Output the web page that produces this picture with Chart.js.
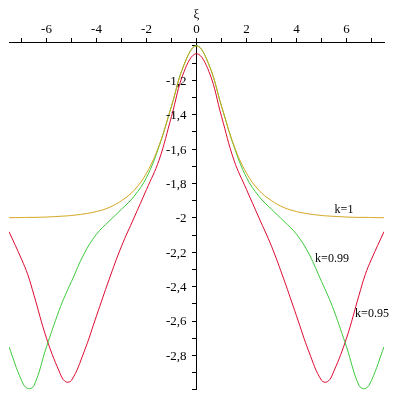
<!DOCTYPE html>
<html>
<head>
<meta charset="utf-8">
<script src="https://cdn.jsdelivr.net/npm/chart.js@4"></script>
<style>
  html, body { margin: 0; padding: 0; background: #fff; }
  #wrap { width: 400px; height: 400px; }
</style>
</head>
<body>
<div id="wrap"><canvas id="xiChart"></canvas></div>
<script>
// x positions (shared by all three curves)
const xs = [-7.5, -7, -6.75, -6.5, -6, -5.5, -5.25, -5, -4.5, -4, -3.5, -3, -2.5, -2, -1.5, -1, -0.5,
            0, 0.5, 1, 1.5, 2, 2.5, 3, 3.5, 4, 4.5, 5, 5.25, 5.5, 6, 6.5, 6.75, 7, 7.5];

// curve values
const xiK1 = [-1.999, -1.998, -1.997, -1.997, -1.995, -1.991, -1.989, -1.986, -1.977, -1.963, -1.94, -1.90, -1.84, -1.74, -1.58, -1.35, -1.11,
              -1.0, -1.11, -1.35, -1.58, -1.74, -1.84, -1.90, -1.94, -1.963, -1.977, -1.986, -1.989, -1.991, -1.995, -1.997, -1.997, -1.998, -1.999];
const xiK099 = [-2.75, -2.945, -2.993, -2.975, -2.75, -2.54, -2.45, -2.37, -2.21, -2.095, -2.02, -1.95, -1.875, -1.765, -1.585, -1.35, -1.11,
                -0.998, -1.11, -1.35, -1.585, -1.765, -1.875, -1.95, -2.02, -2.095, -2.21, -2.37, -2.45, -2.54, -2.75, -2.975, -2.993, -2.945, -2.75];
const xiK095 = [-2.08, -2.24, -2.33, -2.45, -2.70, -2.89, -2.952, -2.945, -2.78, -2.57, -2.36, -2.165, -2.0, -1.835, -1.665, -1.41, -1.15,
                -1.045, -1.15, -1.41, -1.665, -1.835, -2.0, -2.165, -2.36, -2.57, -2.78, -2.945, -2.952, -2.89, -2.70, -2.45, -2.33, -2.24, -2.08];

// curve labels
const curveNames = ['k=1', 'k=0.99', 'k=0.95'];
const nameX = [5.9, 5.42, 7.02];
const nameY = [-1.954, -2.241, -2.557];

// tick marks and which of them carry a label
const xTicks = [-7, -6, -5, -4, -3, -2, -1, 0, 1, 2, 3, 4, 5, 6, 7];
const xLabels = [-6, -4, -2, 0, 2, 4, 6];
const yTicks = [-3, -2.9, -2.8, -2.7, -2.6, -2.5, -2.4, -2.3, -2.2, -2.1, -2, -1.9, -1.8, -1.7, -1.6, -1.5, -1.4, -1.3, -1.2, -1.1, -1];
const yLabels = [-1.2, -1.4, -1.6, -1.8, -2, -2.2, -2.4, -2.6, -2.8];

const serif = "'Liberation Serif', 'DejaVu Serif', serif";

function toPoints(ys) {
    return xs.map((x, i) => ({ x: x, y: ys[i] }));
}

function fmt(v) {
    return String(v).replace('.', ',');
}

// draws the axis title, the y tick labels and the curve names
const textPlugin = {
    id: 'textPlugin',
    afterDraw(chart) {
        const ctx = chart.ctx;
        const sx = chart.scales.x;
        const sy = chart.scales.y;
        const x0 = sx.getPixelForValue(0);
        ctx.save();
        ctx.fillStyle = '#000';
        ctx.font = '13px ' + serif;
        ctx.textAlign = 'center';
        ctx.textBaseline = 'middle';
        ctx.fillText('ξ', x0, 15);

        ctx.textAlign = 'right';
        yLabels.forEach(v => {
            ctx.fillText(fmt(v), x0 - 10, sy.getPixelForValue(v) + 1);
        });

        ctx.textAlign = 'center';
        ctx.font = '12px ' + serif;
        curveNames.forEach((name, i) => {
            ctx.fillText(name, sx.getPixelForValue(nameX[i]), sy.getPixelForValue(nameY[i]));
        });
        ctx.restore();
    }
};

const ctx = document.getElementById('xiChart').getContext('2d');
const xiChart = new Chart(ctx, {
    type: 'line',
    data: {
        datasets: [
            {
                label: 'k=1',
                data: toPoints(xiK1),
                borderColor: '#d4a520',
                borderWidth: 1,
                pointRadius: 0,
                tension: 0.4,
                fill: false
            },
            {
                label: 'k=0.99',
                data: toPoints(xiK099),
                borderColor: '#3cc83c',
                borderWidth: 1,
                pointRadius: 0,
                tension: 0.4,
                fill: false
            },
            {
                label: 'k=0.95',
                data: toPoints(xiK095),
                borderColor: '#dc0a32',
                borderWidth: 1,
                pointRadius: 0,
                tension: 0.4,
                fill: false
            }
        ]
    },
    options: {
        responsive: true,
        maintainAspectRatio: false,
        animation: false,
        layout: {
            padding: { left: 9, right: 16, top: 12, bottom: -4 }
        },
        scales: {
            x: {
                type: 'linear',
                position: 'top',
                min: -7.5,
                max: 7.5,
                grid: {
                    drawOnChartArea: false,
                    color: '#000',
                    tickLength: 4
                },
                border: { color: '#000', width: 1 },
                afterBuildTicks: function(scale) {
                    scale.ticks = xTicks.map(v => ({ value: v }));
                },
                ticks: {
                    autoSkip: false,
                    maxRotation: 0,
                    padding: 1,
                    color: '#000',
                    font: { family: serif, size: 13 },
                    callback: function(value) {
                        return xLabels.includes(value) ? fmt(value) : '';
                    }
                },
                afterFit: function(scale) {
                    scale.height = 30;
                }
            },
            y: {
                type: 'linear',
                position: { x: 0 },
                min: -3,
                max: -0.977,
                grid: {
                    drawOnChartArea: false,
                    color: '#000',
                    tickLength: 4
                },
                border: { color: '#000', width: 1 },
                afterBuildTicks: function(scale) {
                    scale.ticks = yTicks.map(v => ({ value: v }));
                },
                ticks: {
                    autoSkip: false,
                    callback: function() {
                        return '';
                    }
                }
            }
        },
        plugins: {
            legend: { display: false },
            tooltip: { enabled: false }
        }
    },
    plugins: [textPlugin]
});
</script>
</body>
</html>
